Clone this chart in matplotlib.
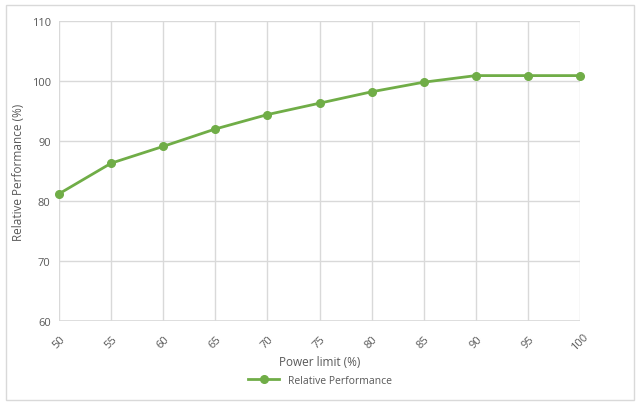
import matplotlib.pyplot as plt
from matplotlib.patches import Rectangle

power_limit = [50, 55, 60, 65, 70, 75, 80, 85, 90, 95, 100]
rel_perf = [81.2, 86.3, 89.1, 92.0, 94.4, 96.3, 98.2, 99.8, 100.9, 100.9, 100.9]
y_ticks = [60, 70, 80, 90, 100, 110]

plt.rcParams['font.family'] = ['Open Sans', 'DejaVu Sans']
green = '#70AD47'
txt = '#595959'
grid = '#D9D9D9'

fig = plt.figure(figsize=(6.4, 4.1), dpi=100)
ax = fig.add_axes([59/640, 88/410, 521/640, 300/410])

ax.plot(power_limit, rel_perf, color=green, lw=2, marker='o', ms=5.5,
        label='Relative Performance', clip_on=False, zorder=3)

ax.set_xlim(50, 100)
ax.set_ylim(60, 110)
ax.set_xticks(power_limit)
ax.set_yticks(y_ticks)
ax.grid(True, color=grid, lw=1)
ax.set_axisbelow(True)
for s in ax.spines.values():
    s.set_visible(False)
ax.axhline(60, color=grid, lw=1.2, zorder=1)
ax.tick_params(length=0, colors=txt, labelsize=8)
ax.tick_params(axis='x', pad=15)
ax.tick_params(axis='y', pad=6)
for lbl in ax.get_xticklabels():
    lbl.set_rotation(45)
    lbl.set_ha('center')
    lbl.set_va('center')

ax.set_xlabel('Power limit (%)', color=txt, fontsize=8.5, labelpad=2)
ax.set_ylabel('Relative Performance (%)', color=txt, fontsize=8.5, labelpad=5)

fig.legend(loc='center', bbox_to_anchor=(320/640, 1 - 381/410), frameon=False,
           fontsize=7.5, labelcolor=txt, handlelength=3)

fig.patches.append(Rectangle((6/640, 9/410), 628/640, 395/410, transform=fig.transFigure,
                             fill=False, edgecolor=grid, lw=1))

fig.savefig('out.png', dpi=100)
